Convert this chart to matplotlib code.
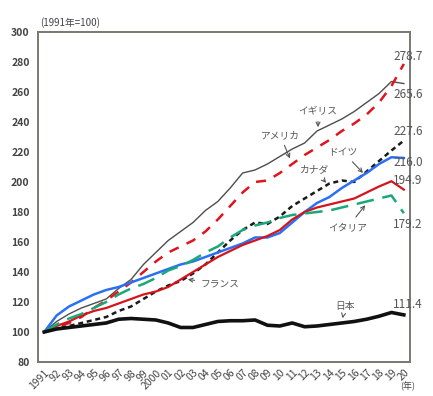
import numpy as np
import matplotlib.pyplot as plt

plt.rcParams['font.family'] = ['Noto Sans CJK JP', 'DejaVu Sans']

years = np.arange(1991, 2021)
year_labels = ['1991'] + [f'{y % 100:02d}' for y in range(1992, 2000)] + ['2000'] + [f'{y % 100:02d}' for y in range(2001, 2021)]

usa = [100, 103, 106, 110, 116, 121, 127, 133, 140, 147, 153, 157, 161, 167, 175,
       184, 193, 200, 201, 206, 212, 218, 223, 228, 234, 239, 245, 253, 264, 278.7]
uk = [100, 107, 112, 116, 119, 122, 129, 135, 145, 153, 161, 167, 173, 181, 187,
      196, 206, 208, 212, 217, 222, 226, 234, 238, 242, 247, 253, 259, 267, 265.6]
canada = [100, 102, 104, 106, 108, 110, 114, 117, 122, 127, 131, 134, 139, 145, 153,
          161, 168, 173, 172, 177, 184, 189, 194, 199, 201, 200, 207, 214, 221, 227.6]
germany = [100, 111, 117, 121, 125, 128, 130, 133, 136, 139, 142, 145, 147, 150, 153,
           156, 159, 163, 163, 166, 173, 180, 186, 190, 196, 201, 206, 212, 216.5, 216.0]
france = [100, 104, 107, 111, 114, 116, 119, 122, 125, 127, 130, 135, 140, 145, 150,
          154, 158, 161, 164, 168, 175, 180, 183, 185, 187, 189, 193, 197, 200.5, 194.9]
italy = [100, 105, 109, 112, 116, 120, 125, 129, 132, 136, 141, 144, 148, 153, 157,
         163, 168, 171, 173, 176, 178, 179, 180, 181, 183, 185, 187, 189, 191, 179.2]
japan = [100, 102, 103, 104, 105, 106, 108.5, 109, 108.5, 108, 106, 103, 103, 105, 107,
         107.5, 107.5, 108, 104.5, 104, 106, 103.5, 104, 105, 106, 107, 108.5, 110.5, 113, 111.4]

fig = plt.figure(figsize=(4.33, 3.96), dpi=100)
ax = fig.add_axes([0.0878, 0.0859, 0.8592, 0.8333])

ax.plot(years, uk, color='#4d4d4d', lw=1.0)
ax.plot(years, usa, color='#e0141e', lw=1.8, dashes=(4, 3.5))
ax.plot(years, canada, color='#1a1a1a', lw=1.8, dashes=(2, 1.5))
ax.plot(years, germany, color='#2a70f5', lw=1.8)
ax.plot(years, france, color='#d4141c', lw=1.6)
ax.plot(years, italy, color='#1aa878', lw=1.8, dashes=(7, 3.5))
ax.plot(years, japan, color='#111111', lw=2.6)

ax.set_xlim(1990.5, 2020.5)
ax.set_ylim(80, 300)
ax.set_yticks(np.arange(80, 301, 20))
ax.set_xticks(years)
ax.set_xticklabels(year_labels, rotation=45, ha='right', rotation_mode='anchor')
ax.tick_params(length=0, labelsize=7.5, labelcolor='#444444', pad=4)
ax.tick_params(axis='y', pad=6)
for lab in ax.get_yticklabels():
    lab.set_fontweight('bold')
for s in ax.spines.values():
    s.set_color('#7a7670')
    s.set_linewidth(1.4)

tc = '#555555'
fig.text(40 / 433, 1 - 23 / 396, '(1991年=100)', fontsize=7, color='#444444', va='center')
fig.text(400 / 433, 1 - 386 / 396, '(年)', fontsize=6.5, color='#444444', va='center')

# end values
ends = [(usa, 278.7, 57), (uk, 265.6, 94), (canada, 227.6, 132), (germany, 216.0, 163),
        (france, 194.9, 180), (italy, 179.2, 224), (japan, 111.4, 305)]
for _, v, ypx in ends:
    fig.text(408 / 433, 1 - ypx / 396, f'{v:.1f}', fontsize=8.5, color=tc,
             ha='center', va='center')

def px(x, y):
    # pixel -> data coords
    return 1991 + (x - 44) / 12.41, 100 + (332 - y) / 1.5

arrowprops = dict(arrowstyle='->', color='#555555', lw=0.8)
notes = [('イギリス', (318, 111), (318, 130)),
         ('アメリカ', (280, 135), (291, 161)),
         ('ドイツ', (343, 152), (365, 175)),
         ('カナダ', (315, 170), (328, 185)),
         ('イタリア', (348, 227), (367, 203)),
         ('日本', (345, 306), (342, 321))]
for name, tpos, apos in notes:
    ax.annotate(name, xy=px(*apos), xytext=px(*tpos), fontsize=7, color=tc,
                ha='center', va='center', arrowprops=arrowprops)
ax.annotate('フランス', xy=px(185, 279), xytext=px(200, 284), fontsize=7, color=tc,
            ha='left', va='center', arrowprops=arrowprops)

fig.savefig('out.png', dpi=100)
